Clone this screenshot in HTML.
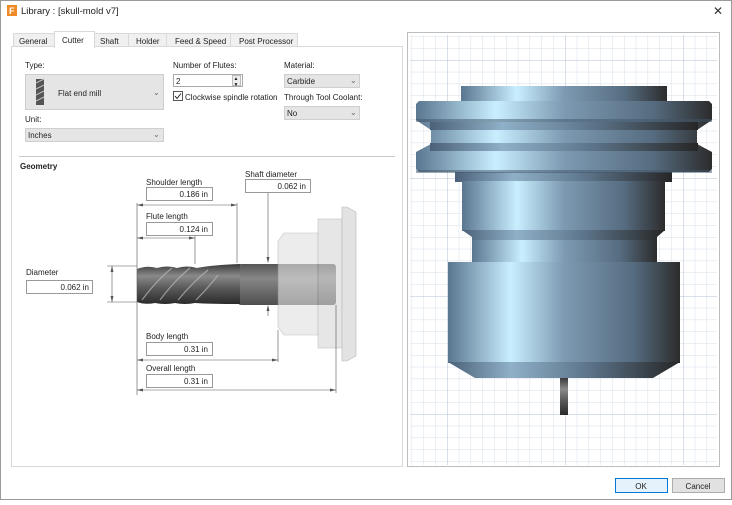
<!DOCTYPE html>
<html><head><meta charset="utf-8"><style>
body{margin:0;width:732px;height:500px;overflow:hidden;background:#fff;font-family:"Liberation Sans",sans-serif;}
svg text{font-family:"Liberation Sans",sans-serif;font-size:8px;fill:#222}
</style></head><body>
<svg width="732" height="500" viewBox="0 0 732 500" xmlns="http://www.w3.org/2000/svg">
<defs>
<linearGradient id="st" x1="0" y1="0" x2="1" y2="0">
<stop offset="0" stop-color="#5a7690"/><stop offset="0.27" stop-color="#c9efff"/><stop offset="0.5" stop-color="#7d9ab2"/><stop offset="0.8" stop-color="#566c80"/><stop offset="1" stop-color="#2c2c2c"/></linearGradient>
<linearGradient id="sd" x1="0" y1="0" x2="1" y2="0">
<stop offset="0" stop-color="#4b6178"/><stop offset="0.27" stop-color="#8fb0c8"/><stop offset="0.6" stop-color="#5d758b"/><stop offset="1" stop-color="#262626"/></linearGradient>
<linearGradient id="tl" x1="0" y1="0" x2="0" y2="1">
<stop offset="0" stop-color="#3a3a3a"/><stop offset="0.3" stop-color="#8a8a8a"/><stop offset="0.6" stop-color="#5a5a5a"/><stop offset="1" stop-color="#2a2a2a"/></linearGradient>
<linearGradient id="sh" x1="0" y1="0" x2="0" y2="1">
<stop offset="0" stop-color="#444"/><stop offset="0.35" stop-color="#7a7a7a"/><stop offset="1" stop-color="#3a3a3a"/></linearGradient>
<pattern id="gm" width="11.8" height="11.8" patternUnits="userSpaceOnUse" x="447" y="60">
<path d="M0 0H11.8M0 0V11.8" stroke="#d6dfea" stroke-width="1" fill="none"/></pattern>
<pattern id="gM" width="118" height="118" patternUnits="userSpaceOnUse" x="447" y="60">
<path d="M0 0H118M0 0V118" stroke="#b3c2d3" stroke-width="1" fill="none"/></pattern>
</defs>
<rect x="0.5" y="0.5" width="731" height="499" fill="#fff" stroke="#9a9a9a"/>
<rect x="7" y="5" width="10" height="11" fill="#f08a24"/><text x="9" y="14" style="font-size:9px;fill:#fff;font-weight:bold">F</text>
<text x="21" y="14" style="font-size:9.5px">Library : [skull-mold v7]</text>
<text x="713" y="15" style="font-size:12px;fill:#333">✕</text>
<g stroke="#d9d9d9" fill="#f0f0f0">
<rect x="13.5" y="33.5" width="41" height="13"/><rect x="94.5" y="33.5" width="34" height="13"/><rect x="128.5" y="33.5" width="38" height="13"/><rect x="166.5" y="33.5" width="64" height="13"/><rect x="230.5" y="33.5" width="67" height="13"/>
</g>
<rect x="11.5" y="46.5" width="391" height="420" fill="#fff" stroke="#d9d9d9"/>
<rect x="54.5" y="31.5" width="40" height="16" fill="#fff" stroke="#d9d9d9"/><rect x="55" y="46" width="39" height="2" fill="#fff"/>
<text x="19" y="44">General</text><text x="62" y="43">Cutter</text><text x="100" y="44">Shaft</text><text x="136" y="44">Holder</text><text x="175" y="44">Feed &amp; Speed</text><text x="239" y="44">Post Processor</text>
<text x="25" y="68">Type:</text>
<rect x="25.5" y="74.5" width="138" height="35" fill="#e5e5e5" stroke="#cfcfcf"/>
<rect x="36" y="79" width="8" height="26" fill="#555"/><path d="M36 83l8-4M36 89l8-4M36 95l8-4M36 101l8-4" stroke="#bbb"/>
<text x="58" y="96">Flat end mill</text><text x="153" y="95" style="font-size:8px;fill:#666">⌄</text>
<text x="25" y="122">Unit:</text>
<rect x="25.5" y="128.5" width="138" height="13" fill="#e5e5e5" stroke="#cfcfcf"/>
<text x="28" y="138">Inches</text><text x="153" y="137" style="fill:#666">⌄</text>
<text x="173" y="68">Number of Flutes:</text>
<rect x="173.5" y="74.5" width="69" height="12" fill="#fff" stroke="#aaa"/><text x="176" y="84">2</text>
<rect x="232.5" y="75.5" width="8" height="10" fill="#eee" stroke="#bbb"/><text x="233.5" y="80" style="font-size:5px">▲</text><text x="233.5" y="86" style="font-size:5px">▼</text>
<rect x="173.5" y="91.5" width="9" height="9" fill="#fff" stroke="#555"/><path d="M175 96l2 2.5 4-5" stroke="#222" fill="none"/>
<text x="185" y="100">Clockwise spindle rotation</text>
<text x="284" y="68">Material:</text>
<rect x="284.5" y="74.5" width="75" height="13" fill="#e5e5e5" stroke="#cfcfcf"/><text x="287" y="84">Carbide</text><text x="350" y="83" style="fill:#666">⌄</text>
<text x="284" y="100">Through Tool Coolant:</text>
<rect x="284.5" y="106.5" width="75" height="13" fill="#e5e5e5" stroke="#cfcfcf"/><text x="287" y="116">No</text><text x="350" y="115" style="fill:#666">⌄</text>
<line x1="19" y1="156.5" x2="395" y2="156.5" stroke="#c8c8c8"/>
<text x="20" y="169" style="font-weight:bold">Geometry</text>
<rect x="238" y="264" width="98" height="41" rx="3" fill="url(#sh)" opacity="0.9"/>
<path d="M137 269q10-4 20-1q10-3 20 0q10-3 20 0q15-3 43-4v40q-30 0-45-1q-10 2-20 0q-10 2-20 0q-10 2-18-1z" fill="url(#tl)"/>
<path d="M142 300q15-20 30-32M160 300q15-20 30-32M178 300q15-18 30-30M196 300q12-12 22-25" stroke="#bbb" stroke-width="1.2" fill="none" opacity="0.7"/>
<g opacity="0.6">
<path d="M278 241l6-8h34v102h-34l-6-8z" fill="#e1e1e1" stroke="#999" stroke-width="0.6"/>
<rect x="318" y="219" width="24" height="129" fill="#d6d6d6" stroke="#999" stroke-width="0.6"/>
<path d="M342 207h5l9 5v144l-9 5h-5z" fill="#cfcfcf" stroke="#888" stroke-width="0.6"/>
</g>
<g stroke="#555" stroke-width="0.6" fill="none">
<line x1="137" y1="203" x2="137" y2="395"/><line x1="237" y1="203" x2="237" y2="263"/><line x1="195" y1="236" x2="195" y2="264"/>
<line x1="336" y1="305" x2="336" y2="393"/><line x1="278" y1="330" x2="278" y2="362"/>
<line x1="137" y1="205" x2="237" y2="205"/><line x1="137" y1="238" x2="195" y2="238"/>
<line x1="137" y1="360" x2="278" y2="360"/><line x1="137" y1="390" x2="336" y2="390"/>
<line x1="112" y1="266" x2="112" y2="302"/><line x1="107" y1="266" x2="137" y2="266"/><line x1="107" y1="302" x2="137" y2="302"/>
<line x1="268" y1="193" x2="268" y2="262"/><line x1="268" y1="306" x2="268" y2="316"/>
</g>
<g fill="#555">
<path d="M137 205l6-1.5v3zM237 205l-6-1.5v3zM137 238l6-1.5v3zM195 238l-6-1.5v3zM137 360l6-1.5v3zM278 360l-6-1.5v3zM137 390l6-1.5v3zM336 390l-6-1.5v3zM112 266l-1.5 6h3zM112 302l-1.5-6h3zM268 263l-1.5-6h3zM268 305l-1.5 6h3z"/>
</g>
<text x="146" y="185">Shoulder length</text>
<rect x="146.5" y="187.5" width="66" height="13" fill="#fff" stroke="#999"/><text x="208" y="197" text-anchor="end">0.186 in</text>
<text x="146" y="219">Flute length</text>
<rect x="146.5" y="222.5" width="66" height="13" fill="#fff" stroke="#999"/><text x="208" y="232" text-anchor="end">0.124 in</text>
<text x="245" y="177">Shaft diameter</text>
<rect x="245.5" y="179.5" width="65" height="13" fill="#fff" stroke="#999"/><text x="306" y="189" text-anchor="end">0.062 in</text>
<text x="26" y="275">Diameter</text>
<rect x="26.5" y="280.5" width="66" height="13" fill="#fff" stroke="#999"/><text x="89" y="290" text-anchor="end">0.062 in</text>
<text x="146" y="339">Body length</text>
<rect x="146.5" y="342.5" width="66" height="13" fill="#fff" stroke="#999"/><text x="208" y="352" text-anchor="end">0.31 in</text>
<text x="146" y="371">Overall length</text>
<rect x="146.5" y="374.5" width="66" height="13" fill="#fff" stroke="#999"/><text x="208" y="384" text-anchor="end">0.31 in</text>
<rect x="407.5" y="32.5" width="312" height="434" fill="#fff" stroke="#bdbdbd"/>
<rect x="410" y="35" width="307" height="430" fill="url(#gm)"/>
<rect x="410" y="35" width="307" height="430" fill="url(#gM)"/>
<rect x="461" y="86" width="206" height="15" fill="url(#st)"/>
<rect x="455" y="172" width="217" height="10" fill="url(#sd)"/>
<path d="M419 101h290l3 3v16l-15 10v14l15 8v17l-3 3h-290l-3-3v-17l15-8v-14l-15-10v-16z" fill="url(#st)"/>
<rect x="416" y="119" width="296" height="3" fill="#3f5468" opacity="0.5"/>
<rect x="430" y="122" width="268" height="8" fill="url(#sd)"/>
<rect x="430" y="143" width="268" height="8" fill="url(#sd)"/>
<rect x="416" y="170" width="296" height="3" fill="#3f5468" opacity="0.5"/>
<rect x="462" y="181" width="203" height="50" fill="url(#st)"/>
<path d="M462 230h203l-8 7v26h-185v-26z" fill="url(#sd)"/>
<rect x="472" y="240" width="185" height="22" fill="url(#st)"/>
<rect x="448" y="262" width="232" height="101" fill="url(#st)"/>
<path d="M448 362h232l-27 16h-178z" fill="url(#sd)"/>
<rect x="560" y="378" width="8" height="37" fill="url(#tl)"/>
<rect x="615.5" y="478.5" width="52" height="14" fill="#e5f1fb" stroke="#0078d7"/><text x="641" y="489" text-anchor="middle">OK</text>
<rect x="672.5" y="478.5" width="52" height="14" fill="#e1e1e1" stroke="#adadad"/><text x="698" y="489" text-anchor="middle">Cancel</text>
</svg>
</body></html>
